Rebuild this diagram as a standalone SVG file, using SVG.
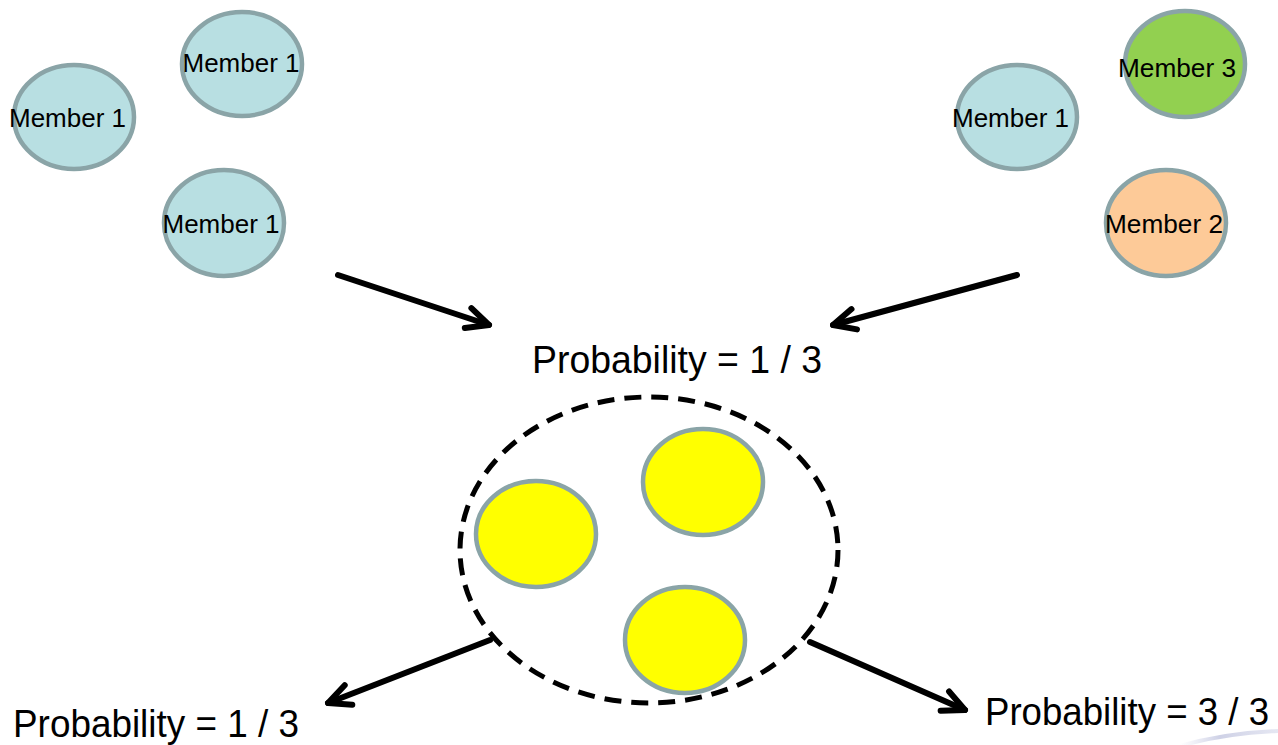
<svg xmlns="http://www.w3.org/2000/svg" width="1278" height="745" viewBox="0 0 1278 745">
<style>
.node{stroke:#8AA4A7;stroke-width:4.5}
.blue{fill:#B8DFE2}
.green{fill:#92D050}
.orange{fill:#FDCA98}
.yellow{fill:#FFFF00}
.lbl{font-family:"Liberation Sans",Arial,sans-serif;font-size:26px;fill:#000;text-anchor:middle}
.prob{font-family:"Liberation Sans",Arial,sans-serif;font-size:38px;fill:#000}
.conn{stroke:#000;stroke-width:6;fill:none;stroke-linecap:round}
</style>
<defs>
<marker id="ah" markerUnits="userSpaceOnUse" viewBox="-30 -16 36 32" refX="0" refY="0" markerWidth="36" markerHeight="32" orient="auto" overflow="visible">
<path d="M-22,-10.5 L0,0 L-22,10.5" fill="none" stroke="#000" stroke-width="6" stroke-linecap="round" stroke-linejoin="round"/>
</marker>
<linearGradient id="sw" x1="0" y1="0" x2="1" y2="0">
<stop offset="0" stop-color="#d4d6ea" stop-opacity="0"/>
<stop offset="0.4" stop-color="#c9cce3" stop-opacity="0.9"/>
<stop offset="1" stop-color="#dfe1ef" stop-opacity="0.8"/>
</linearGradient>
</defs>
<rect width="1278" height="745" fill="#fff"/>
<path d="M1180,746 Q1225,733 1278,731" stroke="url(#sw)" stroke-width="4" fill="none"/>

<g id="left-member-a"><ellipse class="node blue" cx="242" cy="64" rx="60" ry="52"/><text class="lbl" x="241" y="72" textLength="117" lengthAdjust="spacingAndGlyphs">Member 1</text></g>
<g id="left-member-b"><ellipse class="node blue" cx="74" cy="117" rx="60" ry="52"/><text class="lbl" x="67.5" y="127" textLength="117" lengthAdjust="spacingAndGlyphs">Member 1</text></g>
<g id="left-member-c"><ellipse class="node blue" cx="224" cy="223" rx="60" ry="53"/><text class="lbl" x="221" y="233" textLength="117" lengthAdjust="spacingAndGlyphs">Member 1</text></g>

<g id="right-member-1"><ellipse class="node blue" cx="1017" cy="117" rx="60" ry="52"/><text class="lbl" x="1010.5" y="127" textLength="117" lengthAdjust="spacingAndGlyphs">Member 1</text></g>
<g id="right-member-3"><ellipse class="node green" cx="1185" cy="64" rx="60" ry="53"/><text class="lbl" x="1177" y="77" textLength="118" lengthAdjust="spacingAndGlyphs">Member 3</text></g>
<g id="right-member-2"><ellipse class="node orange" cx="1166" cy="223" rx="60" ry="53"/><text class="lbl" x="1164" y="233" textLength="118" lengthAdjust="spacingAndGlyphs">Member 2</text></g>

<g id="prob-top"><text class="prob" x="532" y="373" textLength="290" lengthAdjust="spacingAndGlyphs">Probability = 1 / 3</text></g>

<g id="group">
<ellipse cx="649" cy="550" rx="189" ry="153" fill="none" stroke="#000" stroke-width="5" stroke-dasharray="17,10"/>
<ellipse class="node yellow" cx="536" cy="534" rx="60" ry="53"/>
<ellipse class="node yellow" cx="703" cy="482" rx="60" ry="53"/>
<ellipse class="node yellow" cx="685" cy="640" rx="60" ry="53"/>
</g>

<g id="prob-left"><text class="prob" x="13" y="737" textLength="286" lengthAdjust="spacingAndGlyphs">Probability = 1 / 3</text></g>
<g id="prob-right"><text class="prob" x="985" y="725" textLength="284" lengthAdjust="spacingAndGlyphs">Probability = 3 / 3</text></g>

<g id="connectors">
<line class="conn" x1="338" y1="275" x2="489" y2="325" marker-end="url(#ah)"/>
<line class="conn" x1="1017" y1="275" x2="833" y2="325" marker-end="url(#ah)"/>
<line class="conn" x1="490" y1="640" x2="328" y2="703" marker-end="url(#ah)"/>
<line class="conn" x1="810" y1="642" x2="965" y2="710" marker-end="url(#ah)"/>
</g>
</svg>
